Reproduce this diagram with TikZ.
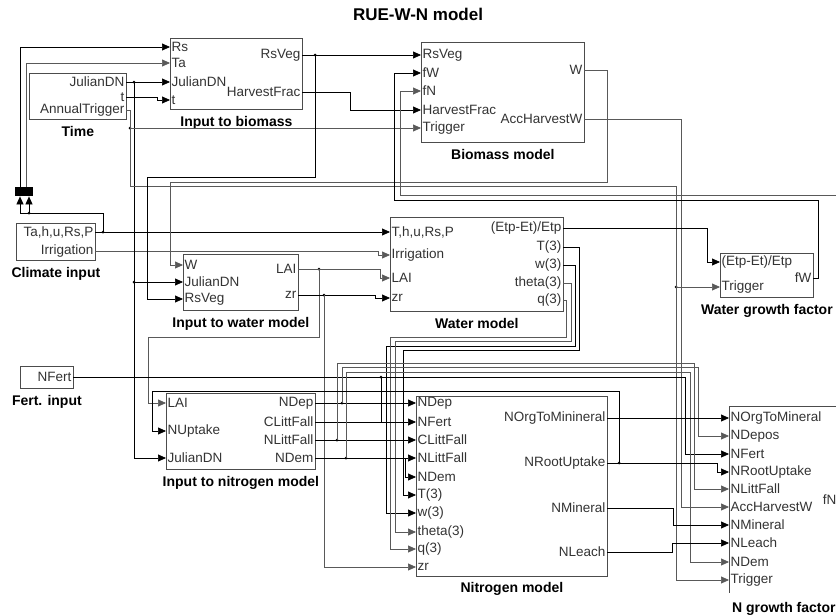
\documentclass[tikz,border=0pt]{standalone}
\usepackage{fontspec}
\setmainfont{Liberation Sans}
\usetikzlibrary{arrows.meta, positioning}
\tikzset{
  font=\fontsize{13.5}{13.5}\selectfont,    % port text
  blk/.style     = {draw=black!70, line width=0.8pt, anchor=north west,
                    inner sep=0pt},
  inport/.style  = {anchor=west, inner sep=1.5pt, text=black!80},
  outport/.style = {anchor=east, inner sep=1.5pt, text=black!80},
  blabel/.style  = {font=\fontsize{14}{14}\selectfont\bfseries, inner sep=1pt},
  wire/.style    = {line width=0.7pt, black},
  wireg/.style   = {line width=0.7pt, black!65},
  arr/.style     = {-{Triangle[length=8pt, width=7pt]}},
  jn/.style      = {circle, fill, inner sep=0pt, minimum size=3pt}
}
\begin{document}
\begin{tikzpicture}[x=1pt, y=-1pt]
  \clip (0,0) rectangle (836,616);
  \node[font=\fontsize{17}{17}\selectfont\bfseries] (ttl) at (418,14) {RUE-W-N model};

  % blocks
  \node[blk, minimum width=97pt, minimum height=46pt] (tm) at (29,73) {};
  \node[blabel, below=5pt of tm] {Time};
  \node[outport] (tm-jd) at (126,82) {JulianDN};
  \node[outport] (tm-t) at (126,97) {t};
  \node[outport] (tm-at) at (126,110) {AnnualTrigger};

  \node[blk, minimum width=132pt, minimum height=71pt] (ib) at (170,38) {};
  \node[blabel, below=5pt of ib] {Input to biomass};
  \node[inport] (ib-rs) at (170,47) {Rs};
  \node[inport] (ib-ta) at (170,63) {Ta};
  \node[inport] (ib-jd) at (170,82) {JulianDN};
  \node[inport] (ib-t) at (170,100) {t};
  \node[outport] (ib-rv) at (302,55) {RsVeg};
  \node[outport] (ib-hf) at (302,92) {HarvestFrac};

  \node[blk, minimum width=163pt, minimum height=100pt] (bm) at (421,42) {};
  \node[blabel, below=5pt of bm] {Biomass model};
  \node[inport] (bm-rv) at (421,55) {RsVeg};
  \node[inport] (bm-fw) at (421,73) {fW};
  \node[inport] (bm-fn) at (421,91) {fN};
  \node[inport] (bm-hf) at (421,110) {HarvestFrac};
  \node[inport] (bm-tr) at (421,128) {Trigger};
  \node[outport] (bm-w) at (584,70) {W};
  \node[outport] (bm-ah) at (584,119) {AccHarvestW};

  \node[fill=black, anchor=north west, inner sep=0pt,
        minimum width=18pt, minimum height=9pt] (mx) at (15,187) {};

  \node[blk, minimum width=79pt, minimum height=37pt] (ci) at (16,223) {};
  \node[blabel, below=5pt of ci] {Climate input};
  \node[outport] (ci-tp) at (95,232) {Ta,h,u,Rs,P};
  \node[outport] (ci-ir) at (95,251) {Irrigation};

  \node[blk, minimum width=115pt, minimum height=56pt] (iw) at (183,254) {};
  \node[blabel, below=5pt of iw] {Input to water model};
  \node[inport] (iw-w) at (183,265) {W};
  \node[inport] (iw-jd) at (183,282) {JulianDN};
  \node[inport] (iw-rv) at (183,299) {RsVeg};
  \node[outport] (iw-lai) at (298,269) {LAI};
  \node[outport] (iw-zr) at (298,295) {zr};

  \node[blk, minimum width=173pt, minimum height=94pt] (wm) at (390,217) {};
  \node[blabel, below=5pt of wm] {Water model};
  \node[inport] (wm-tp) at (390,232) {T,h,u,Rs,P};
  \node[inport] (wm-ir) at (390,255) {Irrigation};
  \node[inport] (wm-lai) at (390,278) {LAI};
  \node[inport] (wm-zr) at (390,298) {zr};
  \node[outport] (wm-et) at (563,228) {(Etp-Et)/Etp};
  \node[outport] (wm-t3) at (563,247) {T(3)};
  \node[outport] (wm-w3) at (563,265) {w(3)};
  \node[outport] (wm-th) at (563,283) {theta(3)};
  \node[outport] (wm-q3) at (563,300) {q(3)};

  \node[blk, minimum width=93pt, minimum height=44pt] (wg) at (720,253) {};
  \node[blabel, below=5pt of wg] {Water growth factor};
  \node[inport] (wg-et) at (720,262) {(Etp-Et)/Etp};
  \node[inport] (wg-tr) at (720,287) {Trigger};
  \node[outport] (wg-fw) at (813,278) {fW};

  \node[blk, minimum width=53pt, minimum height=22pt] (fi) at (20,366) {};
  \node[blabel, below=5pt of fi] {Fert. input};
  \node[outport] (fi-nf) at (73,377) {NFert};

  \node[blk, minimum width=149pt, minimum height=76pt] (in) at (166,393) {};
  \node[blabel, below=5pt of in] {Input to nitrogen model};
  \node[inport] (in-lai) at (166,403) {LAI};
  \node[inport] (in-nu) at (166,431) {NUptake};
  \node[inport] (in-jd) at (166,458) {JulianDN};
  \node[outport] (in-nd) at (315,403) {NDep};
  \node[outport] (in-cl) at (315,422) {CLittFall};
  \node[outport] (in-nl) at (315,440) {NLittFall};
  \node[outport] (in-dm) at (315,458) {NDem};

  \node[blk, minimum width=191pt, minimum height=180pt] (nm) at (416,396) {};
  \node[blabel, below=4pt of nm] {Nitrogen model};
  \node[inport] (nm-nd) at (416,403) {NDep};
  \node[inport] (nm-nf) at (416,422) {NFert};
  \node[inport] (nm-cl) at (416,440) {CLittFall};
  \node[inport] (nm-nl) at (416,458) {NLittFall};
  \node[inport] (nm-dm) at (416,477) {NDem};
  \node[inport] (nm-t3) at (416,495) {T(3)};
  \node[inport] (nm-w3) at (416,513) {w(3)};
  \node[inport] (nm-th) at (416,532) {theta(3)};
  \node[inport] (nm-q3) at (416,549) {q(3)};
  \node[inport] (nm-zr) at (416,567) {zr};
  \node[outport] (nm-og) at (607,418) {NOrgToMinineral};
  \node[outport] (nm-ru) at (607,463) {NRootUptake};
  \node[outport] (nm-mi) at (607,508) {NMineral};
  \node[outport] (nm-le) at (607,552) {NLeach};

  \node[blk, draw=none, minimum width=109pt, minimum height=186pt] (ng) at (729,406) {};
  \draw[black!70, line width=0.8pt] (ng.south west) -- (ng.north west) -- (ng.north east);
  \node[blabel, below=8pt of ng] {N growth factor};
  \node[inport] (ng-og) at (729,418) {NOrgToMineral};
  \node[inport] (ng-ndp) at (729,436) {NDepos};
  \node[inport] (ng-nf) at (729,454) {NFert};
  \node[inport] (ng-ru) at (729,472) {NRootUptake};
  \node[inport] (ng-nl) at (729,489) {NLittFall};
  \node[inport] (ng-ah) at (729,507) {AccHarvestW};
  \node[inport] (ng-mi) at (729,525) {NMineral};
  \node[inport] (ng-le) at (729,543) {NLeach};
  \node[inport] (ng-dm) at (729,562) {NDem};
  \node[inport] (ng-tr) at (729,580) {Trigger};
  \node[outport] (ng-fn) at (838,500) {fN};

  % junctions
  \node[jn] (j-ci) at (103,232) {};
  \node[jn] (j-mx) at (29,213) {};
  \node[jn] (j-jd) at (134,82) {};
  \node[jn] (j-jd2) at (134,282) {};
  \node[jn] (j-at) at (130,128) {};
  \node[jn] (j-wt) at (676,287) {};
  \node[jn] (j-rv) at (315,55) {};
  \node[jn] (j-lai) at (319,269) {};
  \node[jn] (j-zr) at (324,295) {};
  \node[jn] (j-nf) at (381,377) {};
  \node[jn] (j-nd) at (342,403) {};
  \node[jn] (j-nl) at (337,440) {};
  \node[jn] (j-dm) at (346,458) {};
  \node[jn] (j-ru) at (619,463) {};
  \coordinate (k-dm) at (405,458);

  % climate and time
  \draw[wire,arr] (j-ci.center) -- (103,213) -- (20,213) -- (20,0 |- mx.south);
  \draw[wire,arr] (j-mx.center) -- (29,0 |- mx.south);
  \draw[wire,arr] (20,0 |- mx.north) |- (ib-rs.west);
  \draw[wireg,arr] (26,0 |- mx.north) |- (ib-ta.west);
  \draw[wire,arr] (ci-tp.east) -- (wm-tp.west);
  \draw[wireg,arr] (ci-ir.east) -- (378,251) |- (wm-ir.west);
  \draw[wire,arr] (tm-jd.east) -- (ib-jd.west);
  \draw[wire,arr] (j-jd.center) |- (iw-jd.west);
  \draw[wire,arr] (j-jd2.center) |- (in-jd.west);
  \draw[wire,arr] (tm-t.east) -- (157,97) |- (ib-t.west);
  \draw[wireg,arr] (tm-at.east) -| (j-at.center) -- (bm-tr.west);
  \draw[wireg,arr] (j-at.center) -- (130,186) -| (j-wt.center) -- (wg-tr.west);
  \draw[wireg,arr] (j-wt.center) |- (ng-tr.west);

  % biomass
  \draw[wire,arr] (ib-rv.east) -- (bm-rv.west);
  \draw[wire,arr] (j-rv.center) -- (315,177) -- (147,177) |- (iw-rv.west);
  \draw[wire,arr] (ib-hf.east) -- (350,92) |- (bm-hf.west);
  \draw[wireg,arr] (bm-w.east) -- (607,70) -- (607,182) -- (170,182) |- (iw-w.west);
  \draw[wireg,arr] (bm-ah.east) -- (681,119) |- (ng-ah.west);
  \draw[wire,arr] (wg-fw.east) -- (818,278) -- (818,200) -- (394,200) |- (bm-fw.west);
  \draw[wireg,arr] (ng-fn.east) -- (846,500) -- (846,195) -- (400,195) |- (bm-fn.west);

  % water
  \draw[wireg,arr] (iw-lai.east) -- (380,269) |- (wm-lai.west);
  \draw[wireg,arr] (j-lai.center) -- (319,337) -- (148,337) |- (in-lai.west);
  \draw[wire,arr] (iw-zr.east) -- (375,295) |- (wm-zr.west);
  \draw[wireg,arr] (j-zr.center) |- (nm-zr.west);
  \draw[wire,arr] (wm-et.east) -- (707,228) |- (wg-et.west);
  \draw[wire,arr] (wm-t3.east) -- (579,247) -- (579,350) -- (403,350) |- (nm-t3.west);
  \draw[wire,arr] (wm-w3.east) -- (575,265) -- (575,346) -- (386,346) |- (nm-w3.west);
  \draw[wireg,arr] (wm-th.east) -- (571,283) -- (571,341) -- (395,341) |- (nm-th.west);
  \draw[wireg,arr] (wm-q3.east) -- (566,300) -- (566,337) -- (390,337) |- (nm-q3.west);

  % nitrogen
  \draw[wire,arr] (fi-nf.east) -- (685,377) |- (ng-nf.west);
  \draw[wire] (j-nf.center) -- (381,422);
  \draw[wire,arr] (in-nd.east) -- (nm-nd.west);
  \draw[wire,arr] (in-cl.east) -- (nm-nf.west);
  \draw[wire,arr] (in-nl.east) -- (nm-cl.west);
  \draw[wire,arr] (in-dm.east) -- (nm-nl.west);
  \draw[wire,arr] (k-dm) |- (nm-dm.west);
  \draw[wireg,arr] (j-nd.center) -- (342,367) -- (698,367) |- (ng-ndp.west);
  \draw[wireg,arr] (j-nl.center) -- (337,363) -- (694,363) |- (ng-nl.west);
  \draw[wireg,arr] (j-dm.center) -- (346,372) -- (690,372) |- (ng-dm.west);
  \draw[wire,arr] (nm-og.east) -- (ng-og.west);
  \draw[wire,arr] (nm-ru.east) -- (717,463) |- (ng-ru.west);
  \draw[wire,arr] (j-ru.center) -- (619,391) -- (152,391) |- (in-nu.west);
  \draw[wire,arr] (nm-mi.east) -- (673,508) |- (ng-mi.west);
  \draw[wire,arr] (nm-le.east) -- (672,552) |- (ng-le.west);
\end{tikzpicture}
\end{document}
